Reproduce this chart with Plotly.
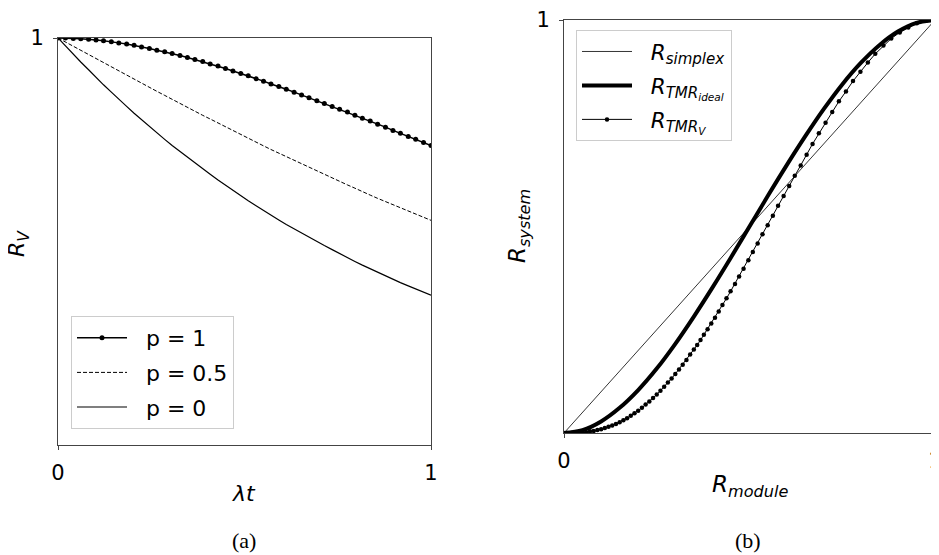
import plotly.graph_objects as go

# ---------------- data (a) ----------------
lam_t = [0.000, 0.020, 0.041, 0.061, 0.082, 0.102, 0.122, 0.143, 0.163, 0.184,
         0.204, 0.224, 0.245, 0.265, 0.286, 0.306, 0.327, 0.347, 0.367, 0.388,
         0.408, 0.429, 0.449, 0.469, 0.490, 0.510, 0.531, 0.551, 0.571, 0.592,
         0.612, 0.633, 0.653, 0.673, 0.694, 0.714, 0.735, 0.755, 0.776, 0.796,
         0.816, 0.837, 0.857, 0.878, 0.898, 0.918, 0.939, 0.959, 0.980, 1.000]
rv_p1 = [1.000, 1.000, 0.999, 0.998, 0.997, 0.995, 0.993, 0.991, 0.988, 0.985,
         0.982, 0.978, 0.974, 0.970, 0.966, 0.962, 0.957, 0.952, 0.947, 0.942,
         0.936, 0.931, 0.925, 0.919, 0.913, 0.907, 0.900, 0.894, 0.887, 0.881,
         0.874, 0.867, 0.860, 0.853, 0.846, 0.839, 0.832, 0.825, 0.818, 0.810,
         0.803, 0.796, 0.788, 0.781, 0.773, 0.766, 0.758, 0.751, 0.743, 0.736]
rv_p05 = [1.000, 0.990, 0.980, 0.969, 0.959, 0.949, 0.939, 0.929, 0.919, 0.909,
          0.899, 0.889, 0.879, 0.869, 0.859, 0.849, 0.839, 0.829, 0.820, 0.810,
          0.801, 0.791, 0.782, 0.772, 0.763, 0.754, 0.744, 0.735, 0.726, 0.717,
          0.708, 0.699, 0.690, 0.682, 0.673, 0.664, 0.656, 0.647, 0.639, 0.631,
          0.622, 0.614, 0.606, 0.598, 0.590, 0.582, 0.575, 0.567, 0.559, 0.552]
rv_p0 = [1.000, 0.980, 0.960, 0.941, 0.922, 0.903, 0.885, 0.867, 0.849, 0.832,
         0.815, 0.799, 0.783, 0.767, 0.751, 0.736, 0.721, 0.707, 0.693, 0.679,
         0.665, 0.651, 0.638, 0.625, 0.613, 0.600, 0.588, 0.576, 0.565, 0.553,
         0.542, 0.531, 0.520, 0.510, 0.500, 0.490, 0.480, 0.470, 0.460, 0.451,
         0.442, 0.433, 0.424, 0.416, 0.407, 0.399, 0.391, 0.383, 0.375, 0.368]

# ---------------- data (b) ----------------
simplex_x = [0.0, 1.0]
simplex_y = [0.0, 1.0]
ideal_x = [0.00, 0.05, 0.10, 0.15, 0.20, 0.25, 0.30, 0.35, 0.40, 0.45, 0.50,
           0.55, 0.60, 0.65, 0.70, 0.75, 0.80, 0.85, 0.90, 0.95, 1.00]
ideal_y = [0.000, 0.007, 0.028, 0.061, 0.104, 0.156, 0.216, 0.282, 0.352, 0.425, 0.500,
           0.575, 0.648, 0.718, 0.784, 0.844, 0.896, 0.939, 0.972, 0.993, 1.000]
tmrv_x = [1.000, 0.975, 0.951, 0.928, 0.905, 0.882, 0.861, 0.839, 0.819, 0.799,
          0.779, 0.760, 0.741, 0.723, 0.705, 0.687, 0.670, 0.654, 0.638, 0.622,
          0.607, 0.592, 0.577, 0.563, 0.549, 0.535, 0.522, 0.509, 0.497, 0.484,
          0.472, 0.461, 0.449, 0.438, 0.427, 0.417, 0.407, 0.397, 0.387, 0.377,
          0.368, 0.359, 0.350,
          0.34, 0.33, 0.32, 0.31, 0.30, 0.29, 0.28, 0.27, 0.26, 0.25, 0.24, 0.23,
          0.22, 0.21, 0.20, 0.19, 0.18, 0.17, 0.16, 0.15, 0.14, 0.13, 0.12, 0.11,
          0.10, 0.09, 0.08, 0.07, 0.06, 0.05, 0.04, 0.03, 0.02, 0.01, 0.00]
tmrv_y = [1.000, 0.998, 0.992, 0.982, 0.970, 0.955, 0.938, 0.918, 0.897, 0.875,
          0.852, 0.827, 0.803, 0.777, 0.751, 0.726, 0.700, 0.674, 0.648, 0.623,
          0.598, 0.574, 0.550, 0.526, 0.503, 0.481, 0.459, 0.438, 0.418, 0.398,
          0.379, 0.361, 0.343, 0.326, 0.310, 0.294, 0.279, 0.265, 0.251, 0.238,
          0.225, 0.213, 0.202,
          0.190, 0.177, 0.165, 0.154, 0.143, 0.132, 0.122, 0.112, 0.102, 0.093, 0.085, 0.076,
          0.069, 0.061, 0.054, 0.048, 0.042, 0.036, 0.031, 0.026, 0.022, 0.018, 0.015, 0.012,
          0.009, 0.007, 0.005, 0.004, 0.002, 0.001, 0.001, 0.000, 0.000, 0.000, 0.000]

FONT = "DejaVu Sans"
W, H = 939, 555
OFF = 8  # page body margin of the written html
SP = "\u00a0\u00a0"


def fx(p):
    return (p - OFF) / W


def fy(p):
    return 1 - (p - OFF) / H


def px_x(a, b):
    return [fx(a), fx(b)]


def px_y(top, bottom):
    return [fy(bottom), fy(top)]


fig = go.Figure()

# (a)
fig.add_trace(go.Scatter(x=lam_t, y=rv_p1, mode="lines+markers", name=SP + "p = 1",
                         line=dict(color="black", width=1.5),
                         marker=dict(size=5, color="black"),
                         xaxis="x", yaxis="y", legend="legend", legendgroup="a1"))
fig.add_trace(go.Scatter(x=lam_t, y=rv_p05, mode="lines", name=SP + "p = 0.5",
                         line=dict(color="black", width=1, dash="4px,2px"),
                         xaxis="x", yaxis="y", legend="legend", legendgroup="a2"))
fig.add_trace(go.Scatter(x=lam_t, y=rv_p0, mode="lines", name=SP + "p = 0",
                         line=dict(color="black", width=1.2),
                         xaxis="x", yaxis="y", legend="legend", legendgroup="a3"))

# (b)
fig.add_trace(go.Scatter(x=simplex_x, y=simplex_y, mode="lines",
                         name=SP + "<i>R</i><sub><i>simplex</i></sub>",
                         line=dict(color="black", width=0.8),
                         xaxis="x2", yaxis="y2", legend="legend2", legendgroup="b1"))
fig.add_trace(go.Scatter(x=ideal_x, y=ideal_y, mode="lines", line_shape="spline",
                         name=SP + "<i>R</i><sub><i>TMR</i><sub><i>ideal</i></sub></sub>",
                         line=dict(color="black", width=4),
                         xaxis="x2", yaxis="y2", legend="legend2", legendgroup="b2"))
fig.add_trace(go.Scatter(x=tmrv_x, y=tmrv_y, mode="lines+markers",
                         name=SP + "<i>R</i><sub><i>TMR</i><sub><i>V</i></sub></sub>",
                         line=dict(color="black", width=1),
                         marker=dict(size=4.5, color="black"),
                         xaxis="x2", yaxis="y2", legend="legend2", legendgroup="b3"))

axis_common = dict(range=[0, 1], showgrid=False, zeroline=False, showline=True,
                   mirror=True, linecolor="#444", linewidth=1, ticks="outside",
                   ticklen=4, tickcolor="#444", tickfont=dict(family=FONT, size=21, color="black"),
                   ticklabelstandoff=5, automargin=False, ticklabeloverflow="allow")

fig.update_layout(
    width=W, height=H, margin=dict(l=0, r=0, t=0, b=0, autoexpand=False),
    paper_bgcolor="white", plot_bgcolor="white",
    xaxis=dict(domain=px_x(58, 431), anchor="y", tickvals=[0, 1], ticktext=["0", "1"], **axis_common),
    yaxis=dict(domain=px_y(38, 445), anchor="x", tickvals=[1], ticktext=["1"], **axis_common),
    xaxis2=dict(domain=px_x(564, 935), anchor="y2", tickvals=[0, 1], ticktext=["0", "1"], **axis_common),
    yaxis2=dict(domain=px_y(20, 433), anchor="x2", tickvals=[1], ticktext=["1"], **axis_common),
    legend=dict(x=fx(71), y=fy(316), xanchor="left", yanchor="top",
                bgcolor="white", bordercolor="#cccccc", borderwidth=1,
                font=dict(family=FONT, size=22, color="black"), itemwidth=50,
                traceorder="grouped", tracegroupgap=3),
    legend2=dict(x=fx(576), y=fy(30), xanchor="left", yanchor="top",
                 bgcolor="white", bordercolor="#cccccc", borderwidth=1,
                 font=dict(family=FONT, size=21.5, color="black"), itemwidth=50,
                 traceorder="grouped", tracegroupgap=3),
    showlegend=True,
)

annos = [
    dict(text="<i>λt</i>", x=fx(244), y=fy(493), font=dict(family=FONT, size=22)),
    dict(text="<i>R</i><sub><i>V</i></sub>", x=fx(18), y=fy(244), textangle=-90,
         font=dict(family=FONT, size=22)),
    dict(text="<i>R</i><sub><i>module</i></sub>", x=fx(750), y=fy(486),
         font=dict(family=FONT, size=23)),
    dict(text="<i>R</i><sub><i>system</i></sub>", x=fx(519), y=fy(226), textangle=-90,
         font=dict(family=FONT, size=23)),
    dict(text="(a)", x=fx(244), y=fy(540), font=dict(family="Liberation Serif", size=22)),
    dict(text="(b)", x=fx(748), y=fy(540), font=dict(family="Liberation Serif", size=22)),
]
for a in annos:
    a.setdefault("font", {})
    a["font"]["color"] = "black"
    fig.add_annotation(xref="paper", yref="paper", showarrow=False,
                       xanchor="center", yanchor="middle", **a)

fig.write_html("out.html")
